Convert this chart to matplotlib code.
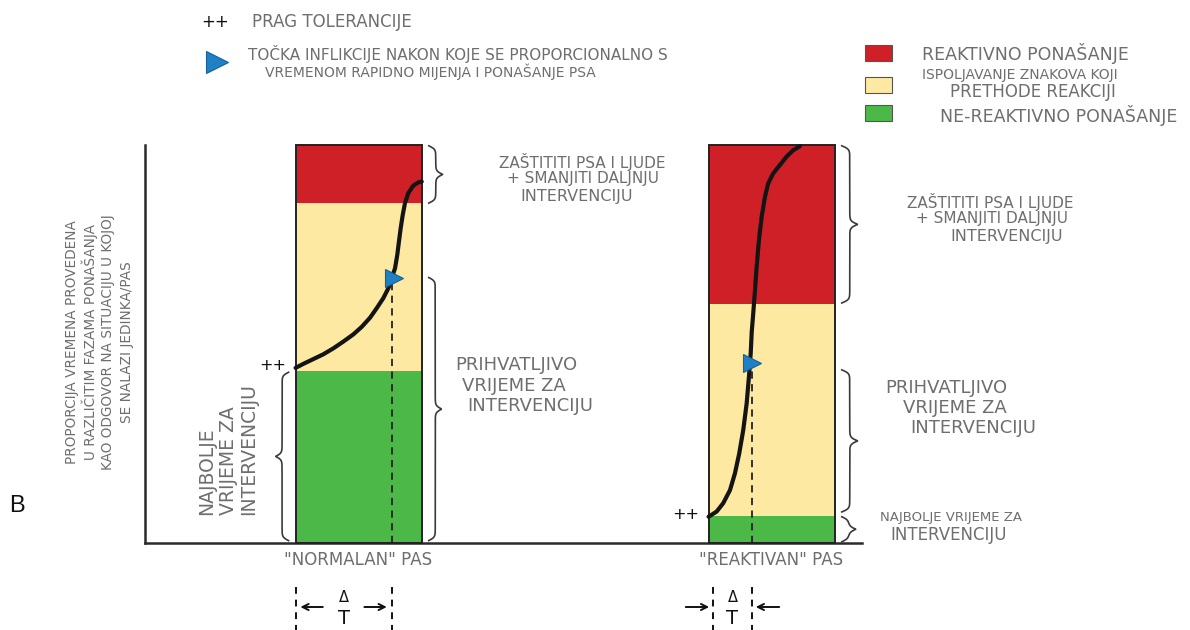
import numpy as np
import matplotlib
matplotlib.use("Agg")
import matplotlib.pyplot as plt

# --- data -------------------------------------------------------------
dogs = ['"NORMALAN" PAS', '"REAKTIVAN" PAS']
bar_x = [2.98, 8.74]
bar_w = 1.76

# band tops as proportion of time (0 = bottom, 1 = top)
green_top = [0.432, 0.068]
yellow_top = [0.854, 0.600]
red_top = [1.0, 1.0]

# curves: u = fraction across the bar, y = proportion
normal_u = [0.0, 0.061, 0.140, 0.219, 0.299, 0.378, 0.457, 0.524, 0.590, 0.643,
            0.695, 0.735, 0.761, 0.788, 0.806, 0.819, 0.833, 0.849, 0.867, 0.893,
            0.933, 0.972, 1.0]
normal_y = [0.440, 0.450, 0.462, 0.474, 0.489, 0.506, 0.524, 0.543, 0.566, 0.590,
            0.615, 0.640, 0.665, 0.690, 0.724, 0.757, 0.791, 0.824, 0.854, 0.879,
            0.898, 0.906, 0.908]
reactive_u = [0.0, 0.064, 0.116, 0.170, 0.209, 0.243, 0.275, 0.302, 0.320, 0.334,
              0.342, 0.354, 0.368, 0.381, 0.399, 0.421, 0.447, 0.473, 0.513, 0.566,
              0.619, 0.671, 0.724]
reactive_y = [0.066, 0.079, 0.100, 0.133, 0.175, 0.225, 0.284, 0.351, 0.418, 0.477,
              0.530, 0.577, 0.636, 0.694, 0.761, 0.820, 0.870, 0.904, 0.929, 0.950,
              0.971, 0.987, 0.997]

# inflection points (u, y), dashed drop line (u) and delta T bounds (u)
tri_u = [0.780, 0.342]
tri_y = [0.667, 0.453]
drop_u = [0.761, 0.342]
dt_u = [[0.0, 0.761], [0.035, 0.344]]

RED = "#cf2027"
YELLOW = "#fde9a1"
GREEN = "#4cb848"
BLUE = "#1f80c3"
GRAY = "#6e6e6e"

W, H = 1190, 630
fig = plt.figure(figsize=(W / 100, H / 100), dpi=100)

# main axes (pixel box 145..862 x 145..543)
ax_l, ax_r, ax_t, ax_b = 145, 862, 145, 543
ax = fig.add_axes([ax_l / W, (H - ax_b) / H, (ax_r - ax_l) / W, (ax_b - ax_t) / H])
ax.set_xlim(0, 10)
ax.set_ylim(0, 1)
PX_X = (ax_r - ax_l) / 10.0
PX_Y = (ax_b - ax_t) / 1.0

for s in ["top", "right"]:
    ax.spines[s].set_visible(False)
for s in ["left", "bottom"]:
    ax.spines[s].set_color("#2b2b2b")
    ax.spines[s].set_linewidth(1.8)
ax.set_xticks([])
ax.set_yticks([])

g = np.array(green_top)
yv = np.array(yellow_top)
r = np.array(red_top)
ax.bar(bar_x, g, bar_w, color=GREEN, edgecolor="none", zorder=2)
ax.bar(bar_x, yv - g, bar_w, bottom=g, color=YELLOW, edgecolor="none", zorder=2)
ax.bar(bar_x, r - yv, bar_w, bottom=yv, color=RED, edgecolor="none", zorder=2)
ax.bar(bar_x, r, bar_w, fill=False, edgecolor="#222222", lw=1.4, zorder=3, clip_on=False)

lefts = [x - bar_w / 2 for x in bar_x]
curves = [(normal_u, normal_y), (reactive_u, reactive_y)]
for i, (cu, cy) in enumerate(curves):
    cx = lefts[i] + np.array(cu) * bar_w
    xd = lefts[i] + drop_u[i] * bar_w
    ax.plot([xd, xd], [0, tri_y[i]], color="#222222", lw=1.3, dashes=(4, 3), zorder=4)
    ax.plot(cx, cy, color="#141414", lw=3.0, solid_capstyle="round",
            solid_joinstyle="round", zorder=5, clip_on=False)
    ax.plot(lefts[i] + tri_u[i] * bar_w, tri_y[i], marker=">", ms=13, color=BLUE,
            markeredgecolor="#17609a", markeredgewidth=0.8, zorder=6)
    ax.annotate("++", xy=(cx[0], cy[0]), xytext=(-23, 2), textcoords="offset pixels",
                ha="center", va="center", fontsize=11.5, color="#111111")
    ax.text(bar_x[i] - 0.01, -0.043, dogs[i], ha="center", va="center",
            fontsize=12, color=GRAY, family="DejaVu Sans")


def brace(x, y0, y1, w_px, side):
    L = (y1 - y0) * PX_Y
    s = np.linspace(0, L, 500)
    half = np.minimum(s, L - s)
    b = 0.6
    off = 1 / (1 + np.exp(-b * half)) + 1 / (1 + np.exp(-b * (half - L / 2))) - 0.5
    ax.plot(x + side * off * w_px / PX_X, y0 + s / PX_Y, color="#3a3a3a",
            lw=1.2, clip_on=False, zorder=4)


gap = 7 / PX_X
right0 = bar_x[0] + bar_w / 2 + gap
right1 = bar_x[1] + bar_w / 2 + gap
brace(right0, yellow_top[0], 0.998, 14, 1)
brace(right0, 0.006, tri_y[0], 13, 1)
brace(lefts[0] - gap, 0.006, green_top[0] - 0.003, 13, -1)
brace(right1, yellow_top[1] + 0.003, 0.998, 16, 1)
brace(right1, green_top[1] + 0.01, 0.435, 16, 1)
brace(right1, 0.003, green_top[1] - 0.002, 14, 1)

# --- overlay for text in pixel coordinates ---------------------------
ov = fig.add_axes([0, 0, 1, 1], zorder=5)
ov.set_xlim(0, W)
ov.set_ylim(H, 0)
ov.axis("off")


def txt(x, y, s, size=10.5, ha="left", color=GRAY, family="DejaVu Sans"):
    ov.text(x, y, s, ha=ha, va="center", fontsize=size, color=color, family=family)


# top-left key
txt(215, 22, "++", 12, "center", "#111111")
txt(252, 22, "PRAG TOLERANCIJE", 12)
ov.plot(217, 62, marker=">", ms=16, color=BLUE, markeredgecolor="#17609a", markeredgewidth=0.8)
txt(248, 54, "TOČKA INFLIKCIJE NAKON KOJE SE PROPORCIONALNO S", 11)
txt(265, 72, "VREMENOM RAPIDNO MIJENJA I PONAŠANJE PSA", 10)

# top-right legend
legend_labels = [["REAKTIVNO PONAŠANJE"], ["ISPOLJAVANJE ZNAKOVA KOJI", "PRETHODE REAKCIJI"],
                 ["NE-REAKTIVNO PONAŠANJE"]]
legend_colors = [RED, YELLOW, GREEN]
box_y = [45, 77, 105]
for c, y0 in zip(legend_colors, box_y):
    ov.add_patch(plt.Rectangle((865, y0), 27, 16, facecolor=c, edgecolor="#555555", lw=0.8))
txt(922, 53, legend_labels[0][0], 12.5)
txt(922, 75, legend_labels[1][0], 10)
txt(950, 92, legend_labels[1][1], 12)
txt(940, 115, legend_labels[2][0], 12.5)

# notes beside the normal dog bar
txt(582, 162, "ZAŠTITITI PSA I LJUDE", 11, "center")
txt(583, 179, "+ SMANJITI DALJNJU", 11, "center")
txt(577, 196, "INTERVENCIJU", 11.5, "center")
txt(455, 365, "PRIHVATLJIVO", 13)
txt(462, 386, "VRIJEME ZA", 13)
txt(467, 406, "INTERVENCIJU", 13)

# notes beside the reactive dog bar
txt(990, 202, "ZAŠTITITI PSA I LJUDE", 11, "center")
txt(992, 219, "+ SMANJITI DALJNJU", 11, "center")
txt(1007, 236, "INTERVENCIJU", 11.5, "center")
txt(885, 388, "PRIHVATLJIVO", 13)
txt(903, 408, "VRIJEME ZA", 13)
txt(910, 428, "INTERVENCIJU", 13)
txt(880, 518, "NAJBOLJE VRIJEME ZA", 9.5)
txt(890, 535, "INTERVENCIJU", 12)

# rotated note left of the normal bar
for xx, s in zip([207, 229, 249], ["NAJBOLJE", "VRIJEME ZA", "INTERVENCIJU"]):
    ov.text(xx, 515, s, rotation=90, rotation_mode="anchor", ha="left", va="center",
            fontsize=13.5, color=GRAY, family="DejaVu Sans")

# y label
ylab = ["PROPORCIJA VREMENA PROVEDENA", "U RAZLIČITIM FAZAMA PONAŠANJA",
        "KAO ODGOVOR NA SITUACIJU U KOJOJ", "SE NALAZI JEDINKA/PAS"]
for xx, s in zip([72, 90, 108, 127], ylab):
    ov.text(xx, 342, s, rotation=90, ha="center", va="center", fontsize=9.8,
            color=GRAY, family="DejaVu Sans")

txt(17, 506, "B", 17, "center", "#111111", family="Liberation Sans")

# delta T markers under the bars
for i in range(2):
    xa = ax_l + (lefts[i] + dt_u[i][0] * bar_w) * PX_X
    xb = ax_l + (lefts[i] + dt_u[i][1] * bar_w) * PX_X
    xm = (xa + xb) / 2
    for xx in (xa, xb):
        ov.plot([xx, xx], [587, 630], color="#111111", lw=1.4, dashes=(3.5, 3))
    txt(xm, 598, "Δ", 10.5, "center", "#111111")
    txt(xm, 618, "T", 14, "center", "#111111")
    aprops = dict(arrowstyle="->", color="#111111", lw=1.4, mutation_scale=11)
    if i == 0:
        ov.annotate("", xy=(xa + 2, 607), xytext=(xa + 30, 607), arrowprops=aprops)
        ov.annotate("", xy=(xb - 2, 607), xytext=(xb - 30, 607), arrowprops=aprops)
    else:
        ov.annotate("", xy=(xa - 1, 607), xytext=(xa - 30, 607), arrowprops=aprops)
        ov.annotate("", xy=(xb + 1, 607), xytext=(xb + 30, 607), arrowprops=aprops)

fig.savefig("out.png", dpi=100, facecolor="white")
